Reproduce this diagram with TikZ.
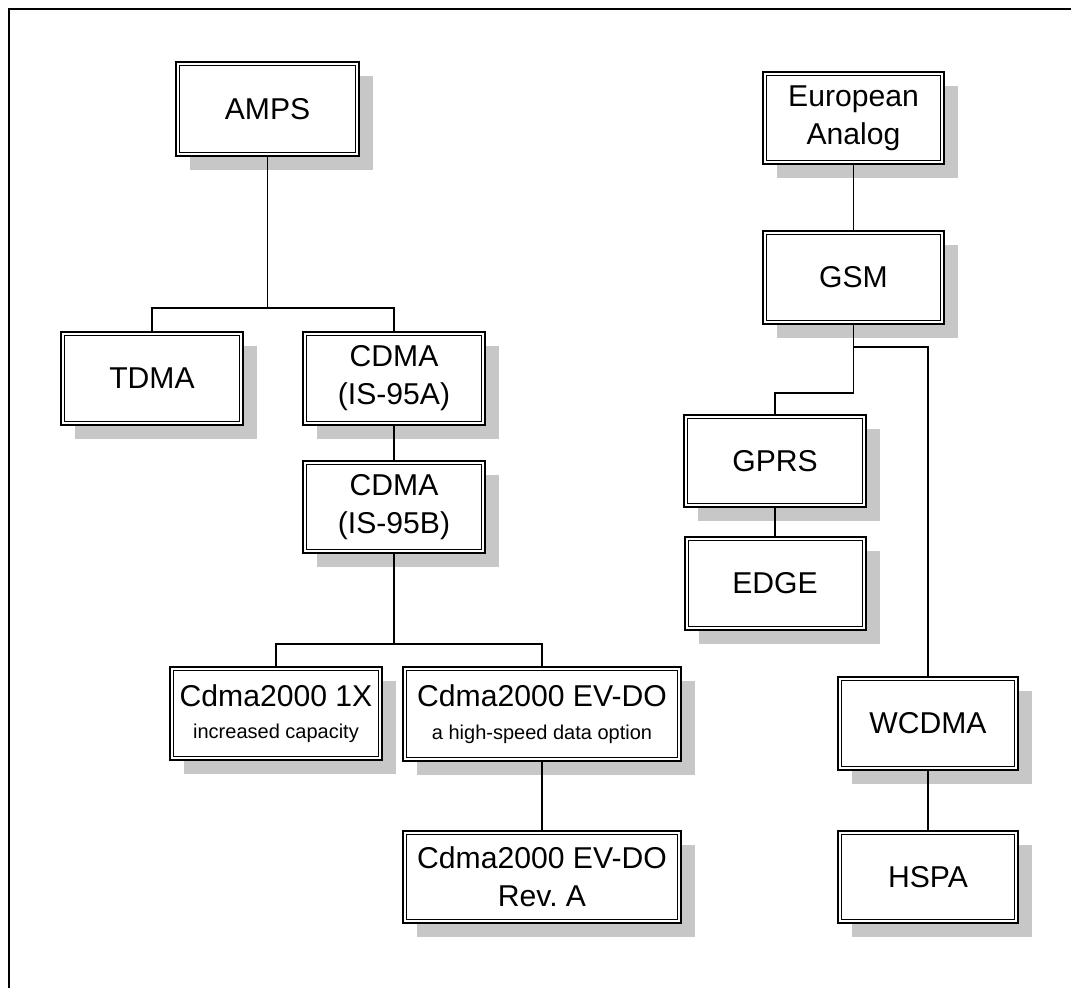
\documentclass[tikz,border=0pt]{standalone}
\usepackage{fontspec}
\setmainfont{Liberation Sans}
\usetikzlibrary{shadows}
\begin{document}
\begin{tikzpicture}[x=0.75pt,y=-0.75pt,
  box/.style 2 args={draw=black, line width=1.5pt, fill=white, rectangle,
    minimum width=#1*0.75pt, minimum height=#2*0.75pt, inner sep=0pt,
    align=center, font=\fontsize{22.6}{28.5}\selectfont,
    drop shadow={shadow xshift=10.5pt, shadow yshift=-10.5pt, fill=black!22, opacity=1},
    path picture={\draw[line width=0.6pt]
      ([shift={(2.7pt,2.7pt)}]path picture bounding box.south west) rectangle
      ([shift={(-2.7pt,-2.7pt)}]path picture bounding box.north east);}},
  conn/.style={draw=black, line width=1.1pt}]
\useasboundingbox (0,0) rectangle (1071,988);
% frame
\coordinate (fTL) at (9,9);
\coordinate (fTR) at (1071,9);
\coordinate (fBL) at (9,988);
\draw[line width=2.2pt] (fTR) -- (fTL) -- (fBL);

% left tree
\node[box={183}{94}] (amps) at (267.5,109) {AMPS};
\node[box={182}{93}] (tdma) at (152,378.5) {TDMA};
\node[box={182}{93}] (cdmaA) at (394,378.5) {CDMA\\(IS-95A)};
\node[box={182}{92}] (cdmaB) at (394,507) {CDMA\\(IS-95B)};
\node[box={212}{93}] (onex) at (276,713.5) {Cdma2000 1X\\[-4pt]{\fontsize{15}{18}\selectfont increased capacity}};
\node[box={278}{94}] (evdo) at (542,714) {Cdma2000 EV-DO\\[-4pt]{\fontsize{15}{18}\selectfont a high-speed data option}};
\node[box={278}{92}] (reva) at (542,877) {Cdma2000 EV-DO\\Rev.\ A};

% right tree
\node[box={181}{92}] (euro) at (853.5,118) {European\\Analog};
\node[box={181}{93}] (gsm) at (853.5,277.5) {GSM};
\node[box={182}{92}] (gprs) at (775,461) {GPRS};
\node[box={181}{93}] (edge) at (775,583.5) {EDGE};
\node[box={180}{93}] (wcdma) at (928,723.5) {WCDMA};
\node[box={180}{92}] (hspa) at (928,877) {HSPA};

% junctions
\coordinate (j1) at (267.5,308);
\coordinate (j2) at (394,644);
\coordinate (j3) at (853.5,393);
\coordinate (j4) at (853.5,347);

% connectors
\draw[conn] (amps.south) -- (j1);
\draw[conn] (tdma.north) |- (j1) -| (cdmaA.north);
\draw[conn] (cdmaA.south) -- (cdmaB.north);
\draw[conn] (cdmaB.south) -- (j2);
\draw[conn] (onex.north) |- (j2) -| (evdo.north);
\draw[conn] (evdo.south) -- (reva.north);
\draw[conn] (euro.south) -- (gsm.north);
\draw[conn] (gsm.south) -- (j3);
\draw[conn] (j3) -| (gprs.north);
\draw[conn] (j4) -| (wcdma.north);
\draw[conn] (gprs.south) -- (edge.north);
\draw[conn] (wcdma.south) -- (hspa.north);
\end{tikzpicture}
\end{document}
